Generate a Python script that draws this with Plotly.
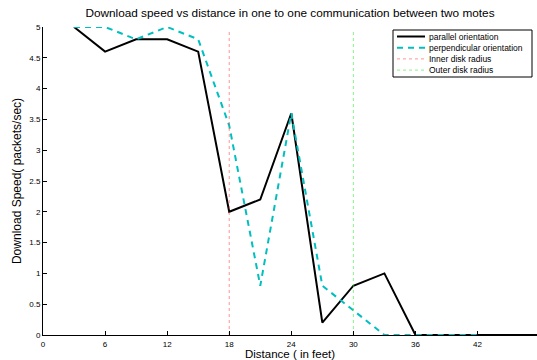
import plotly.graph_objects as go

# Distance between the two motes (feet)
distance_parallel = [3, 6, 9, 12, 15, 18, 21, 24, 27, 30, 33, 36, 39, 42, 45, 48]
speed_parallel = [5.0, 4.6, 4.8, 4.8, 4.6, 2.0, 2.2, 3.6, 0.2, 0.8, 1.0, 0, 0, 0, 0, 0]

distance_perpendicular = [3, 6, 9, 12, 15, 18, 21, 24, 27, 30, 33, 36, 39, 42]
speed_perpendicular = [5.0, 5.0, 4.8, 5.0, 4.8, 3.4, 0.8, 3.6, 0.8, 0.4, 0, 0, 0, 0]

inner_radius = 18
outer_radius = 30
radius_span = [0, 4.95]

x_ticks = [0, 6, 12, 18, 24, 30, 36, 42, 48]
y_ticks = [0, 0.5, 1, 1.5, 2, 2.5, 3, 3.5, 4, 4.5, 5]
x_max = 47.75

FONT = "Liberation Sans, Arial, Helvetica, sans-serif"

styles = [
    ("parallel orientation", dict(color="black", width=2)),
    ("perpendicular orientation", dict(color="rgb(0,191,191)", width=2, dash="6px,5px")),
    ("Inner disk radius", dict(color="rgba(255,60,60,0.55)", width=1, dash="dot")),
    ("Outer disk radius", dict(color="rgba(40,230,40,0.55)", width=1, dash="dot")),
]

fig = go.Figure()
fig.add_trace(go.Scatter(x=distance_parallel, y=speed_parallel, mode="lines",
                         name=styles[0][0], line=styles[0][1]))
fig.add_trace(go.Scatter(x=distance_perpendicular, y=speed_perpendicular, mode="lines",
                         name=styles[1][0], line=styles[1][1]))
fig.add_trace(go.Scatter(x=[inner_radius, inner_radius], y=radius_span, mode="lines",
                         name=styles[2][0], line=styles[2][1]))
fig.add_trace(go.Scatter(x=[outer_radius, outer_radius], y=radius_span, mode="lines",
                         name=styles[3][0], line=styles[3][1]))

# Compact legend box drawn in pixel-like paper coordinates
W, H = 537, 360
ML, MR, MT, MB = 43, 0, 27, 25
PW, PH = W - ML - MR, H - MT - MB


def px(xp):
    return (xp - ML) / PW


def py(yp):
    return (H - MB - yp) / PH


box_l, box_r, box_t, box_b = 393, 532, 30, 77
fig.add_shape(type="rect", xref="paper", yref="paper",
              x0=px(box_l), x1=px(box_r), y0=py(box_b), y1=py(box_t),
              line=dict(color="black", width=1), fillcolor="white", layer="above")
for i, (label, ln) in enumerate(styles):
    yy = 36.5 + i * 11.2
    fig.add_shape(type="line", xref="paper", yref="paper",
                  x0=px(397), x1=px(425), y0=py(yy), y1=py(yy),
                  line=ln, layer="above")
    fig.add_annotation(x=px(427), y=py(yy), xref="paper", yref="paper",
                       text=label, showarrow=False, xanchor="left", yanchor="middle",
                       font=dict(family=FONT, size=8.5, color="black"))

# last tick label sits at the right edge, just past the visible range
fig.add_annotation(
    x=px(535), y=0, xref="paper", yref="paper", text=str(x_ticks[-1]),
    showarrow=False, xanchor="left", yanchor="top", yshift=-2,
    font=dict(family=FONT, size=8, color="black"),
)

# x-axis title placed just under the tick labels
fig.add_annotation(
    x=0.5, y=py(354), xref="paper", yref="paper", text="Distance ( in feet)",
    showarrow=False, xanchor="center", yanchor="middle",
    font=dict(family=FONT, size=11.5, color="black"),
)

fig.update_layout(
    width=W, height=H,
    margin=dict(l=ML, r=MR, t=MT, b=MB),
    paper_bgcolor="white", plot_bgcolor="white",
    font=dict(family=FONT, size=8, color="black"),
    title=dict(
        text="Download speed vs distance in one to one communication between two motes",
        x=0.54, xanchor="center", y=0.963, yanchor="middle",
        font=dict(family=FONT, size=11.8, color="black"),
    ),
    showlegend=False,
    xaxis=dict(
        range=[0, x_max], tickvals=x_ticks,
        showgrid=False, zeroline=False,
        showline=True, linecolor="black", linewidth=1,
        ticks="inside", ticklen=4, tickcolor="black",
        ticklabelstandoff=1,
        tickfont=dict(family=FONT, size=8),
    ),
    yaxis=dict(
        range=[0, 5], tickvals=y_ticks,
        showgrid=False, zeroline=False,
        showline=True, linecolor="black", linewidth=1,
        ticks="inside", ticklen=4, tickcolor="black",
        tickfont=dict(family=FONT, size=8),
        title=dict(text="Download Speed( packets/sec)", standoff=5,
                   font=dict(family=FONT, size=12)),
    ),
)

fig.write_html("out.html")
